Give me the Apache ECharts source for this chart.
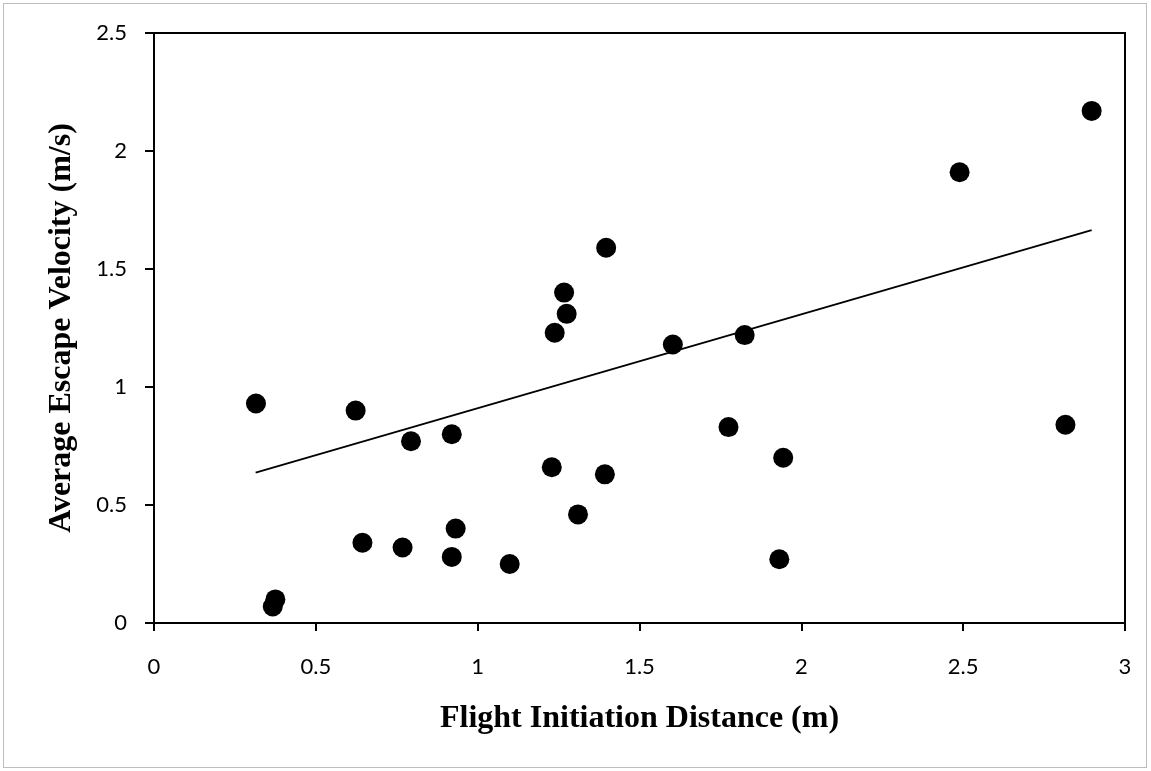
<!DOCTYPE html>
<html>
<head>
<meta charset="utf-8">
<script src="https://cdn.jsdelivr.net/npm/echarts@6/dist/echarts.min.js"></script>
<style>
  html, body { margin: 0; padding: 0; background: #fff; }
  #frame {
    position: absolute; left: 3px; top: 3px; width: 1144px; height: 765px;
    border: 1px solid #bdbdbd; box-sizing: border-box;
  }
  #chart { position: absolute; left: 0; top: 0; width: 1151px; height: 771px; }
</style>
</head>
<body>
<div id="frame"></div>
<div id="chart"></div>
<script>
// Flight initiation distance (m) vs average escape velocity (m/s)
const distance = [
  0.315, 0.623, 0.367, 0.375, 0.644, 0.794, 0.768, 0.920, 0.920, 0.932,
  1.099, 1.229, 1.238, 1.275, 1.267, 1.310, 1.393, 1.397, 1.603, 1.825,
  1.775, 1.944, 1.932, 2.489, 2.816, 2.897,
];
const velocity = [
  0.93, 0.90, 0.07, 0.10, 0.34, 0.77, 0.32, 0.80, 0.28, 0.40,
  0.25, 0.66, 1.23, 1.31, 1.40, 0.46, 0.63, 1.59, 1.18, 1.22,
  0.83, 0.70, 0.27, 1.91, 0.84, 2.17,
];
// linear trend line end points
const trendX = [0.314, 2.897];
const trendY = [0.637, 1.665];

const xTicks = [0, 0.5, 1, 1.5, 2, 2.5, 3];
const yTicks = [0, 0.5, 1, 1.5, 2, 2.5];

const TICK_FONT = { color: "#000", fontFamily: "Lato, 'Open Sans', sans-serif", fontSize: 22 };
const TITLE_FONT = { color: "#000", fontFamily: "'Liberation Serif', 'DejaVu Serif', serif", fontWeight: "bold", fontSize: 32 };

const chart = echarts.init(document.getElementById("chart"));
chart.setOption({
  animation: false,
  grid: { left: 154, right: 26, top: 33, bottom: 148, show: true, borderColor: "#000", borderWidth: 2 },
  xAxis: {
    type: "value",
    min: xTicks[0],
    max: xTicks[xTicks.length - 1],
    interval: 0.5,
    name: "Flight Initiation Distance (m)",
    nameLocation: "middle",
    nameGap: 80,
    nameTextStyle: TITLE_FONT,
    axisLine: { onZero: false, lineStyle: { color: "#000", width: 2 } },
    axisTick: { show: true, length: 8, lineStyle: { color: "#000", width: 2 } },
    axisLabel: { ...TICK_FONT, margin: 33 },
    splitLine: { show: false },
  },
  yAxis: {
    type: "value",
    min: yTicks[0],
    max: yTicks[yTicks.length - 1],
    interval: 0.5,
    name: "Average Escape Velocity (m/s)",
    nameLocation: "middle",
    nameGap: 76,
    nameTextStyle: TITLE_FONT,
    axisLine: { onZero: false, lineStyle: { color: "#000", width: 2 } },
    axisTick: { show: true, length: 9, lineStyle: { color: "#000", width: 2 } },
    axisLabel: { ...TICK_FONT, margin: 27 },
    splitLine: { show: false },
  },
  series: [
    {
      type: "scatter",
      symbol: "circle",
      symbolSize: 20,
      itemStyle: { color: "#000", opacity: 1 },
      data: distance.map((d, i) => [d, velocity[i]]),
      z: 3,
    },
    {
      type: "line",
      data: trendX.map((d, i) => [d, trendY[i]]),
      showSymbol: false,
      lineStyle: { color: "#000", width: 1.75 },
      z: 2,
    },
  ],
});
</script>
</body>
</html>
